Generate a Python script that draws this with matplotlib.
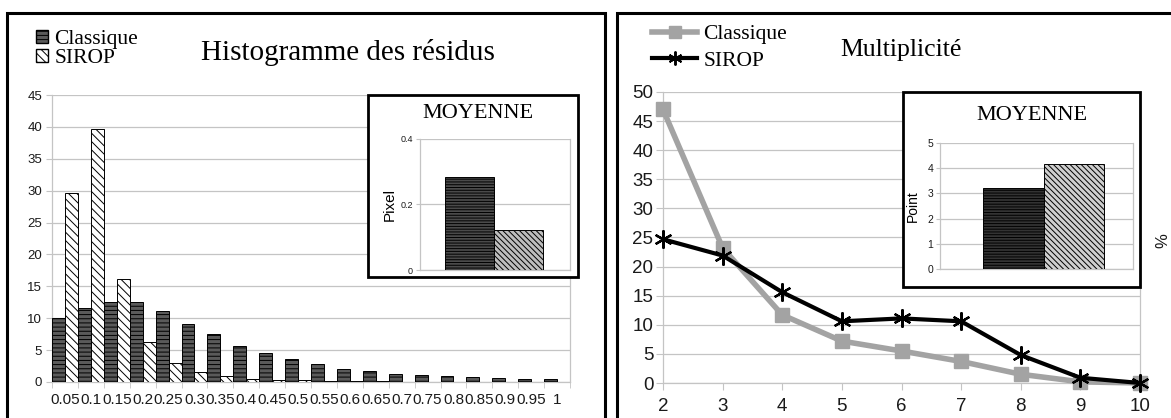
import matplotlib

matplotlib.use("Agg")
import matplotlib.pyplot as plt
from matplotlib.patches import Rectangle, Patch
from matplotlib.lines import Line2D

# --- data -------------------------------------------------------------
residu_bins = ["0.05", "0.1", "0.15", "0.2", "0.25", "0.3", "0.35", "0.4", "0.45", "0.5",
               "0.55", "0.6", "0.65", "0.7", "0.75", "0.8", "0.85", "0.9", "0.95", "1"]
residu_classique = [10.0, 11.6, 12.6, 12.5, 11.2, 9.1, 7.5, 5.7, 4.6, 3.6,
                    2.8, 2.05, 1.7, 1.3, 1.15, 1.0, 0.8, 0.6, 0.4, 0.4]
residu_sirop = [29.6, 39.7, 16.1, 6.3, 3.0, 1.5, 0.95, 0.5, 0.3, 0.3,
                0.1, 0.1, 0.1, 0.0, 0.0, 0.0, 0.0, 0.0, 0.0, 0.0]
moyenne_pixel = [0.285, 0.122]          # Classique, SIROP

multi_x = [2, 3, 4, 5, 6, 7, 8, 9, 10]
multi_classique = [47.0, 23.2, 11.7, 7.2, 5.5, 3.7, 1.5, 0.2, 0.0]
multi_sirop = [24.7, 21.9, 15.6, 10.6, 11.1, 10.6, 4.8, 0.9, 0.0]
moyenne_point = [3.2, 4.15]             # Classique, SIROP

W, H = 1171, 418
SERIF = "Liberation Serif"
SANS = "Liberation Sans"
GRID = "#c4c4c4"
TXT = "#1a1a1a"

plt.rcParams["hatch.linewidth"] = 0.7


def box(x0, y0, x1, y1):
    """pixel box (top-left origin) -> figure fraction rect"""
    return [x0 / W, (H - y1) / H, (x1 - x0) / W, (y1 - y0) / H]


def style_axes(ax, fs):
    ax.set_facecolor("none")
    ax.grid(axis="y", color=GRID, linewidth=0.9)
    ax.set_axisbelow(True)
    ax.spines["top"].set_visible(False)
    for s in ("left", "bottom", "right"):
        ax.spines[s].set_color(GRID)
        ax.spines[s].set_linewidth(0.9)
    ax.tick_params(axis="both", labelsize=fs, colors=GRID, labelcolor=TXT)
    for lab in ax.get_xticklabels() + ax.get_yticklabels():
        lab.set_fontfamily(SANS)


fig = plt.figure(figsize=(W / 100, H / 100), dpi=100)
fig.patch.set_facecolor("white")

# panel frames
for x0, y0, x1, y1 in [(7, 13, 605, 430), (617, 13, 1185, 430)]:
    fig.add_artist(Rectangle((x0 / W, (H - y1) / H), (x1 - x0) / W, (y1 - y0) / H,
                             transform=fig.transFigure, fill=False,
                             edgecolor="black", linewidth=2.2, clip_on=False))

# --- left: histogram ----------------------------------------------------
ax = fig.add_axes(box(52, 95, 570, 382))
idx = list(range(len(residu_bins)))
ax.bar([i - 0.25 for i in idx], residu_classique, width=0.5, color="#5a5a5a",
       edgecolor="black", linewidth=0.7, hatch="----", zorder=3)
ax.bar([i + 0.25 for i in idx], residu_sirop, width=0.5, color="white",
       edgecolor="black", linewidth=0.7, hatch="\\\\\\\\", zorder=3)
ax.set_xlim(-0.5, len(residu_bins) - 0.5)
ax.set_ylim(0, 45)
ax.set_yticks(range(0, 46, 5))
ax.set_xticks(idx)
ax.set_xticklabels(residu_bins)
ax.set_xticks([i - 0.5 for i in range(len(residu_bins) + 1)], minor=True)
style_axes(ax, 9.5)
ax.tick_params(axis="x", which="major", length=0, pad=8, labelsize=11)
ax.tick_params(axis="x", which="minor", length=4, color=GRID)
ax.tick_params(axis="y", length=4, pad=3)

fig.text(348 / W, 1 - 52 / H, "Histogramme des résidus", family=SERIF, fontsize=21,
         ha="center", va="center")
fig.legend(handles=[Patch(facecolor="#5a5a5a", edgecolor="black", hatch="----"),
                    Patch(facecolor="white", edgecolor="black", hatch="\\\\\\\\")],
           labels=["Classique", "SIROP"], loc="upper left",
           bbox_to_anchor=(36 / W, 1 - 30 / H), frameon=False,
           prop={"family": SERIF, "size": 15.5}, handlelength=0.55,
           handleheight=0.55, handletextpad=0.3, labelspacing=0.0,
           borderaxespad=0, borderpad=0)
fig.text(572 / W, 1 - 223 / H, "%", fontsize=5, rotation=90, color="#888",
         ha="center", va="center")

# inset MOYENNE (pixel)
fig.add_artist(Rectangle((368 / W, (H - 277) / H), 210 / W, 182 / H,
                         transform=fig.transFigure, facecolor="white",
                         edgecolor="black", linewidth=2.0, zorder=5))
fig.text(478 / W, 1 - 114 / H, "MOYENNE", family=SERIF, fontsize=16,
         ha="center", va="center", zorder=6)
ia = fig.add_axes(box(420, 139, 570, 270), zorder=6)
ia.bar([0], moyenne_pixel[:1], width=1, color="#4a4a4a", edgecolor="black",
       linewidth=0.7, hatch="------", zorder=3)
ia.bar([1], moyenne_pixel[1:], width=1, color="#bdbdbd", edgecolor="black",
       linewidth=0.7, hatch="\\\\\\\\\\\\", zorder=3)
ia.set_xlim(-1.0, 2.05)
ia.set_ylim(0, 0.4)
ia.set_yticks([0, 0.2, 0.4])
ia.set_yticklabels(["0", "0.2", "0.4"])
ia.set_xticks([])
style_axes(ia, 6.5)
ia.tick_params(axis="y", length=3, pad=2)
ia.set_ylabel("Pixel", family=SANS, fontsize=11, labelpad=3)

# --- right: multiplicity -------------------------------------------------
bx = fig.add_axes(box(663, 92, 1140, 383))
bx.plot(multi_x, multi_classique, color="#a3a3a3", linewidth=4, marker="s",
        markersize=10, clip_on=False, zorder=3, label="Classique")
bx.plot(multi_x, multi_sirop, color="black", linewidth=3, marker=(6, 2, 0),
        markersize=13, markeredgewidth=1.6, clip_on=False, zorder=4, label="SIROP")
bx.set_xlim(2, 10)
bx.set_ylim(0, 50)
bx.set_xticks(multi_x)
bx.set_yticks(range(0, 51, 5))
style_axes(bx, 13.5)
bx.tick_params(axis="x", length=5, pad=6)
bx.tick_params(axis="y", length=5, pad=2)
bx.text(1.047, 0.49, "%", transform=bx.transAxes, rotation=90, fontsize=12,
        family=SANS, ha="center", va="center", color=TXT)

fig.text(901 / W, 1 - 50 / H, "Multiplicité", family=SERIF, fontsize=18.5,
         ha="center", va="center")
fig.legend(handles=[Line2D([], [], color="#a3a3a3", linewidth=4, marker="s", markersize=9),
                    Line2D([], [], color="black", linewidth=3, marker=(6, 2, 0),
                           markersize=10, markeredgewidth=1.4)],
           labels=["Classique", "SIROP"], loc="upper left",
           bbox_to_anchor=(652 / W, 1 - 24 / H), frameon=False,
           prop={"family": SERIF, "size": 15.5}, handlelength=2.1,
           handletextpad=0.28, labelspacing=0.3, borderaxespad=0, borderpad=0)

# inset MOYENNE (point)
fig.add_artist(Rectangle((903 / W, (H - 287) / H), 237 / W, 195 / H,
                         transform=fig.transFigure, facecolor="white",
                         edgecolor="black", linewidth=2.0, zorder=5))
fig.text(1032 / W, 1 - 116 / H, "MOYENNE", family=SERIF, fontsize=16,
         ha="center", va="center", zorder=6)
ib = fig.add_axes(box(940, 143, 1133, 269), zorder=6)
ib.bar([0], moyenne_point[:1], width=1, color="#333333", edgecolor="black",
       linewidth=0.7, hatch="------", zorder=3)
ib.bar([1], moyenne_point[1:], width=1, color="#cfcfcf", edgecolor="black",
       linewidth=0.7, hatch="\\\\\\\\\\\\", zorder=3)
ib.set_xlim(-1.2, 1.97)
ib.set_ylim(0, 5)
ib.set_yticks(range(0, 6))
ib.set_xticks([])
style_axes(ib, 7.5)
ib.tick_params(axis="y", length=3, pad=2)
ib.set_ylabel("Point", family=SANS, fontsize=10, labelpad=5)

fig.savefig("out.png", dpi=100, facecolor="white")
